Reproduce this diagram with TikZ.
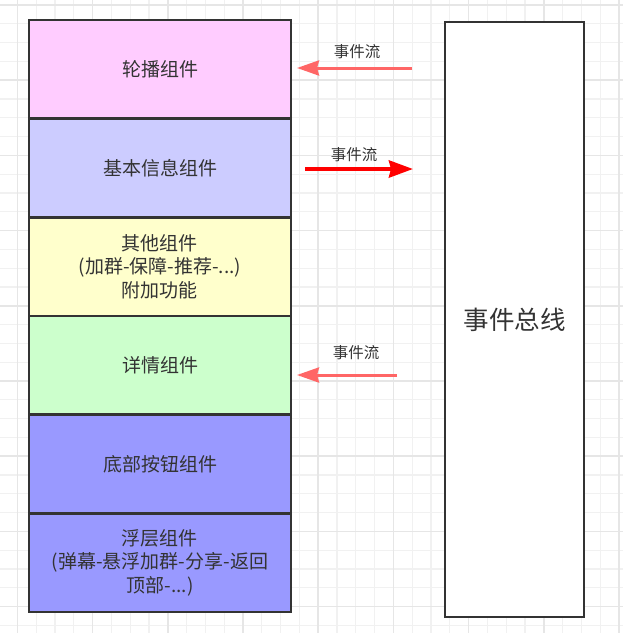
\documentclass[tikz,border=0pt]{standalone}
\usepackage{fontspec}
\setmainfont{Noto Sans CJK SC}
\usetikzlibrary{arrows.meta,positioning}
\definecolor{textgray}{HTML}{333333}
\definecolor{framegray}{HTML}{333333}
\definecolor{carouselpink}{HTML}{FFCCFF}
\definecolor{basicblue}{HTML}{CCCCFF}
\definecolor{otheryellow}{HTML}{FFFFCC}
\definecolor{detailgreen}{HTML}{CCFFCC}
\definecolor{bottomviolet}{HTML}{9999FF}
\definecolor{lightred}{HTML}{FF6666}
\definecolor{minorgrid}{HTML}{F1F1F1}
\definecolor{majorgrid}{HTML}{E6E6E6}

\begin{document}
\begin{tikzpicture}[
    x=1pt, y=-1pt,
    node distance=0pt,
    every node/.style={font=\fontsize{19}{23.5}\selectfont, text=textgray},
    comp/.style={draw=framegray, line width=2.7pt, outer sep=0pt, inner sep=0pt, align=center, minimum width=262pt, minimum height=98.67pt},
    bus/.style={draw=framegray, line width=2.7pt, outer sep=0pt, fill=white, minimum width=139pt, minimum height=595pt, font=\fontsize{25.5}{30}\selectfont},
    flow/.style={-{Stealth[length=22pt, width=15pt, inset=2pt]}, line width=3pt, draw=lightred},
    strongflow/.style={-{Stealth[length=24pt, width=17pt, inset=2pt]}, line width=4pt, draw=red},
    flowlabel/.style={font=\fontsize{15.5}{18}\selectfont, inner sep=0pt},
    minorline/.style={draw=minorgrid, line width=1.2pt},
    majorline/.style={draw=majorgrid, line width=1.6pt}
]
\useasboundingbox[fill=white] (0,0) rectangle (623,633);
\foreach \k in {0,...,32} {
    \pgfmathsetmacro\gx{17.3+18.8*\k}
    \draw[minorline] (\gx,0) -- (\gx,633);
}
\foreach \k in {0,...,33} {
    \pgfmathsetmacro\gy{5+18.8*\k}
    \draw[minorline] (0,\gy) -- (623,\gy);
}
\foreach \k in {0,4,...,32} {
    \pgfmathsetmacro\gx{17.3+18.8*\k}
    \pgfmathsetmacro\gy{5+18.8*\k}
    \draw[majorline] (\gx,0) -- (\gx,633);
    \draw[majorline] (0,\gy) -- (623,\gy);
}

\node[comp, fill=carouselpink, anchor=north west] (carousel) at (29,20) {轮播组件};
\node[comp, fill=basicblue, below=of carousel] (basic) {基本信息组件};
\node[comp, fill=otheryellow, below=of basic] (other) {其他组件\\(加群-保障-推荐-...)\\附加功能};
\node[comp, fill=detailgreen, below=of other] (detail) {详情组件};
\node[comp, fill=bottomviolet, below=of detail] (bottom) {底部按钮组件};
\node[comp, fill=bottomviolet, below=of bottom] (overlay) {浮层组件\\(弹幕-悬浮加群-分享-返回\\顶部-...)};
\node[bus] (bus) at (514.5,319.5) {事件总线};

\coordinate (carouselin) at (412,68);
\coordinate (carouselout) at (297,68);
\coordinate (basicout) at (305,169);
\coordinate (basicin) at (413,169);
\coordinate (detailin) at (397,375);
\coordinate (detailout) at (297,375);
\draw[flow] (carouselin) -- (carouselout);
\draw[strongflow] (basicout) -- (basicin);
\draw[flow] (detailin) -- (detailout);
\node[flowlabel] (carousellabel) at (357,52) {事件流};
\node[flowlabel] (basiclabel) at (354,155) {事件流};
\node[flowlabel] (detaillabel) at (356,353) {事件流};
\end{tikzpicture}
\end{document}
